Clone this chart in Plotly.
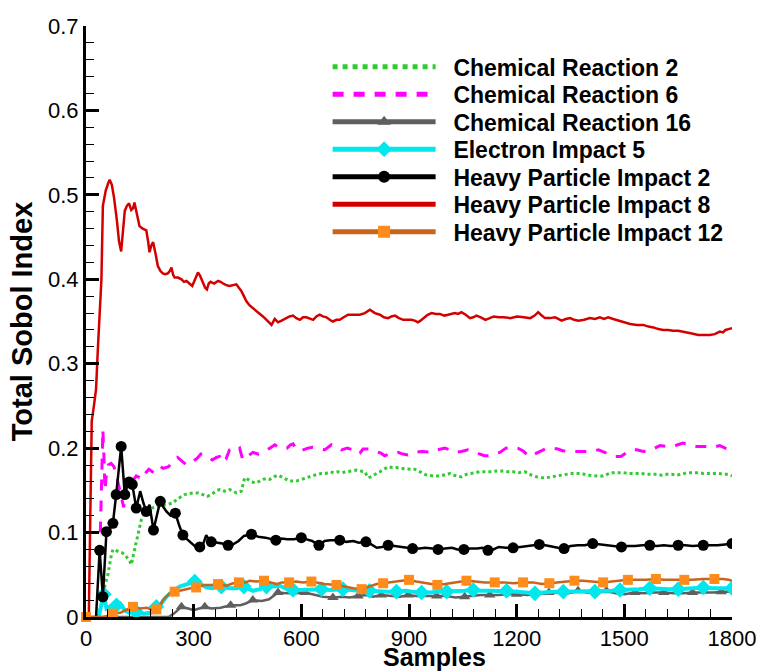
import plotly.graph_objects as go

# ---------------- data ----------------
hpi8_x = [0, 8, 12, 16, 22, 28, 33, 38, 43, 47, 55, 62, 66, 72, 78, 86, 92, 98, 103, 108, 114, 120, 126, 131, 135,
          142, 149, 158, 168, 173, 177, 182, 187, 194, 200, 207, 214, 221, 228, 234, 238, 243, 247, 256, 266, 273,
          280, 288, 296, 304, 312, 318, 326, 332, 337, 342, 347, 357, 368, 375, 382, 391, 400, 410, 419, 426, 433,
          440, 447, 456, 465, 474, 484, 493, 503, 510, 517, 526, 535, 545, 558, 567, 577, 586, 596, 605, 614, 624,
          633, 642, 651, 660, 670, 679, 688, 698, 707, 718, 730, 745, 763, 777, 791, 805, 819, 830, 842, 851, 861,
          872, 884, 895, 907, 916, 925, 932, 940, 952, 963, 975, 986, 998, 1009, 1019, 1028, 1037, 1046, 1058,
          1070, 1079, 1088, 1100, 1113, 1125, 1136, 1150, 1164, 1182, 1201, 1220, 1238, 1250, 1260, 1270, 1279,
          1293, 1307, 1316, 1325, 1337, 1349, 1360, 1372, 1388, 1404, 1418, 1432, 1443, 1455, 1469, 1483, 1500,
          1516, 1535, 1553, 1567, 1581, 1595, 1608, 1622, 1636, 1650, 1664, 1685, 1706, 1722, 1738, 1752, 1766,
          1775, 1782, 1790, 1800]
hpi8_y = [0.0, 0.005, 0.12, 0.232, 0.25, 0.27, 0.317, 0.36, 0.40, 0.487, 0.505, 0.514, 0.518, 0.512, 0.497, 0.47,
          0.445, 0.433, 0.455, 0.481, 0.487, 0.49, 0.482, 0.484, 0.491, 0.475, 0.463, 0.46, 0.458, 0.445, 0.432,
          0.44, 0.444, 0.43, 0.416, 0.41, 0.407, 0.406, 0.407, 0.41, 0.414, 0.405, 0.402, 0.402, 0.4, 0.397, 0.398,
          0.395, 0.392, 0.4, 0.408, 0.404, 0.396, 0.39, 0.388, 0.395, 0.397, 0.395, 0.398, 0.397, 0.395, 0.393,
          0.392, 0.393, 0.394, 0.39, 0.386, 0.38, 0.374, 0.369, 0.366, 0.363, 0.36, 0.356, 0.352, 0.349, 0.346,
          0.353, 0.349, 0.351, 0.354, 0.356, 0.357, 0.354, 0.352, 0.355, 0.355, 0.353, 0.352, 0.356, 0.358, 0.356,
          0.355, 0.352, 0.35, 0.352, 0.352, 0.355, 0.358, 0.358, 0.358, 0.36, 0.364, 0.36, 0.358, 0.355, 0.354,
          0.356, 0.357, 0.354, 0.352, 0.352, 0.352, 0.351, 0.349, 0.351, 0.354, 0.358, 0.36, 0.359, 0.359, 0.357,
          0.358, 0.359, 0.36, 0.359, 0.361, 0.358, 0.354, 0.355, 0.357, 0.355, 0.352, 0.354, 0.356, 0.355, 0.355,
          0.354, 0.356, 0.355, 0.354, 0.357, 0.361, 0.357, 0.354, 0.354, 0.355, 0.353, 0.351, 0.353, 0.354, 0.352,
          0.351, 0.352, 0.354, 0.353, 0.355, 0.353, 0.355, 0.353, 0.351, 0.349, 0.347, 0.346, 0.346, 0.344, 0.343,
          0.341, 0.34, 0.34, 0.339, 0.339, 0.338, 0.336, 0.334, 0.334, 0.334, 0.335, 0.338, 0.337, 0.34, 0.341,
          0.342]

cr6_x = [40, 44, 47, 50, 53, 57, 62, 70, 78, 86, 95, 100, 105, 110, 116, 125, 132, 140, 150, 158, 165, 175, 185,
         195, 205, 215, 230, 242, 255, 268, 280, 295, 310, 320, 328, 340, 352, 363, 372, 380, 390, 400, 410, 420,
         428, 437, 450, 465, 480, 498, 512, 526, 540, 560, 570, 577, 587, 600, 618, 632, 646, 665, 684, 698, 712,
         728, 743, 755, 763, 772, 790, 810, 822, 832, 850, 869, 883, 897, 915, 935, 950, 963, 980, 1000, 1014,
         1028, 1046, 1064, 1078, 1092, 1110, 1125, 1140, 1153, 1170, 1189, 1203, 1217, 1235, 1256, 1270, 1284,
         1300, 1315, 1328, 1342, 1360, 1381, 1395, 1409, 1428, 1446, 1460, 1474, 1490, 1507, 1521, 1535, 1553,
         1571, 1585, 1599, 1617, 1635, 1649, 1663, 1683, 1702, 1716, 1730, 1748, 1766, 1781, 1796, 1800]
cr6_y = [0.10, 0.16, 0.222, 0.19, 0.15, 0.17, 0.18, 0.182, 0.178, 0.165, 0.15, 0.14, 0.13, 0.145, 0.162, 0.158,
         0.163, 0.167, 0.165, 0.172, 0.17, 0.175, 0.172, 0.178, 0.179, 0.176, 0.178, 0.184, 0.189, 0.184, 0.18,
         0.183, 0.188, 0.193, 0.193, 0.19, 0.186, 0.189, 0.19, 0.183, 0.187, 0.198, 0.2, 0.198, 0.2, 0.186, 0.19,
         0.195, 0.193, 0.196, 0.2, 0.204, 0.2, 0.2, 0.204, 0.205, 0.198, 0.197, 0.2, 0.201, 0.2, 0.198, 0.204,
         0.202, 0.198, 0.2, 0.198, 0.193, 0.194, 0.199, 0.199, 0.196, 0.194, 0.191, 0.194, 0.195, 0.193, 0.192,
         0.195, 0.196, 0.195, 0.195, 0.198, 0.2, 0.198, 0.195, 0.196, 0.198, 0.196, 0.194, 0.191, 0.191, 0.193,
         0.195, 0.2, 0.201, 0.2, 0.197, 0.19, 0.194, 0.197, 0.2, 0.2, 0.199, 0.197, 0.196, 0.196, 0.196, 0.196,
         0.196, 0.198, 0.195, 0.193, 0.19, 0.19, 0.195, 0.198, 0.198, 0.196, 0.197, 0.2, 0.203, 0.202, 0.202,
         0.204, 0.206, 0.204, 0.202, 0.202, 0.202, 0.201, 0.203, 0.2, 0.198, 0.198]

cr2_x = [35, 40, 47, 54, 61, 66, 70, 75, 80, 87, 94, 101, 108, 115, 122, 126, 133, 140, 147, 154, 163, 172, 182,
         193, 205, 216, 228, 242, 252, 261, 275, 286, 298, 312, 326, 338, 349, 357, 365, 373, 386, 400, 410, 419,
         433, 442, 451, 461, 475, 484, 493, 503, 512, 524, 535, 549, 558, 568, 586, 600, 614, 625, 637, 656, 668,
         679, 690, 702, 714, 726, 740, 754, 765, 777, 782, 786, 793, 800, 810, 819, 830, 842, 853, 865, 879, 893,
         905, 916, 930, 940, 949, 968, 980, 995, 1005, 1014, 1024, 1033, 1046, 1060, 1070, 1085, 1097, 1115, 1130,
         1145, 1158, 1175, 1190, 1205, 1223, 1232, 1241, 1255, 1269, 1283, 1297, 1311, 1325, 1340, 1353, 1367,
         1381, 1397, 1413, 1427, 1441, 1452, 1464, 1480, 1497, 1513, 1530, 1546, 1562, 1576, 1590, 1604, 1618,
         1632, 1646, 1660, 1674, 1690, 1706, 1720, 1734, 1748, 1762, 1776, 1790, 1800]
cr2_y = [0.0, 0.01, 0.028, 0.04, 0.05, 0.065, 0.072, 0.08, 0.079, 0.078, 0.077, 0.076, 0.074, 0.07, 0.066, 0.062,
         0.075, 0.087, 0.1, 0.115, 0.123, 0.127, 0.129, 0.13, 0.131, 0.132, 0.133, 0.135, 0.139, 0.141, 0.145,
         0.146, 0.147, 0.147, 0.145, 0.143, 0.145, 0.148, 0.15, 0.151, 0.149, 0.151, 0.149, 0.147, 0.149, 0.165,
         0.163, 0.16, 0.159, 0.161, 0.163, 0.164, 0.163, 0.166, 0.168, 0.165, 0.163, 0.161, 0.161, 0.163, 0.165,
         0.166, 0.168, 0.17, 0.17, 0.172, 0.171, 0.172, 0.171, 0.172, 0.173, 0.174, 0.173, 0.172, 0.168, 0.165,
         0.166, 0.168, 0.17, 0.172, 0.175, 0.178, 0.177, 0.177, 0.176, 0.175, 0.175, 0.175, 0.172, 0.17, 0.168,
         0.167, 0.167, 0.168, 0.169, 0.17, 0.168, 0.167, 0.166, 0.169, 0.17, 0.171, 0.172, 0.172, 0.172, 0.173,
         0.173, 0.172, 0.172, 0.171, 0.172, 0.17, 0.168, 0.166, 0.165, 0.165, 0.166, 0.167, 0.168, 0.169, 0.17,
         0.17, 0.17, 0.168, 0.167, 0.167, 0.167, 0.169, 0.171, 0.171, 0.171, 0.17, 0.17, 0.17, 0.169, 0.169,
         0.169, 0.168, 0.169, 0.169, 0.168, 0.169, 0.171, 0.171, 0.171, 0.17, 0.17, 0.17, 0.17, 0.169, 0.169,
         0.167]

# Heavy Particle Impact 2: x, y, marker flag (1 = symbol drawn)
hpi2_x = [28, 38, 47, 57, 66, 75, 84, 98, 108, 114, 120, 129, 140, 151, 160, 168, 177, 188, 200, 207, 216, 224,
          236, 249, 260, 270, 282, 294, 306, 317, 326, 335, 342, 349, 365, 380, 396, 410, 425, 440, 461, 480, 500,
          515, 529, 545, 560, 580, 600, 615, 630, 649, 665, 680, 707, 725, 745, 760, 780, 795, 810, 825, 842, 860,
          880, 895, 910, 930, 945, 965, 981, 1000, 1020, 1035, 1053, 1070, 1090, 1105, 1120, 1135, 1150, 1170,
          1190, 1210, 1230, 1245, 1263, 1280, 1300, 1315, 1332, 1350, 1370, 1390, 1412, 1430, 1450, 1470, 1492,
          1510, 1530, 1550, 1571, 1590, 1610, 1630, 1650, 1670, 1690, 1720, 1740, 1760, 1780, 1800]
hpi2_y = [0.0, 0.079, 0.024, 0.101, 0.104, 0.111, 0.145, 0.202, 0.145, 0.155, 0.16, 0.157, 0.129, 0.149, 0.135,
          0.125, 0.133, 0.103, 0.125, 0.137, 0.13, 0.125, 0.12, 0.123, 0.108, 0.097, 0.092, 0.087, 0.083, 0.083,
          0.086, 0.097, 0.092, 0.089, 0.088, 0.087, 0.085, 0.086, 0.09, 0.096, 0.098, 0.095, 0.094, 0.092, 0.091,
          0.093, 0.092, 0.092, 0.094, 0.092, 0.09, 0.085, 0.09, 0.091, 0.091, 0.089, 0.09, 0.088, 0.089, 0.086,
          0.082, 0.083, 0.085, 0.084, 0.083, 0.082, 0.081, 0.081, 0.082, 0.081, 0.08, 0.081, 0.082, 0.08, 0.08,
          0.081, 0.081, 0.082, 0.079, 0.08, 0.083, 0.082, 0.082, 0.083, 0.084, 0.085, 0.086, 0.085, 0.083, 0.082,
          0.081, 0.084, 0.085, 0.085, 0.087, 0.086, 0.085, 0.084, 0.083, 0.084, 0.084, 0.085, 0.085, 0.084, 0.085,
          0.084, 0.085, 0.085, 0.084, 0.085, 0.085, 0.085, 0.086, 0.087]
hpi2_m = [0, 1, 1, 1, 0, 1, 1, 1, 1, 0, 1, 1, 1, 0, 0, 1, 0, 1, 0, 1, 0, 0, 0, 1, 0, 1, 0, 0, 0, 1, 0, 0, 0, 1,
          0, 0, 1, 0, 0, 0, 1, 0, 0, 0, 1, 0, 0, 0, 1, 0, 0, 1, 0, 0, 1, 0, 0, 0, 1, 0, 0, 0, 1, 0, 0, 0, 1, 0,
          0, 0, 1, 0, 0, 0, 1, 0, 0, 0, 1, 0, 0, 0, 1, 0, 0, 0, 1, 0, 0, 0, 1, 0, 0, 0, 1, 0, 0, 0, 1, 0, 0, 0,
          1, 0, 0, 0, 1, 0, 0, 1, 0, 0, 0, 1]

hpi12_x = [0, 30, 50, 75, 95, 110, 131, 150, 170, 185, 196, 205, 214, 233, 247, 261, 280, 307, 331, 350, 368, 391,
           410, 426, 445, 456, 475, 496, 515, 531, 545, 566, 585, 605, 628, 645, 665, 698, 720, 745, 768, 790, 810,
           828, 850, 875, 900, 920, 945, 979, 1000, 1030, 1060, 1085, 1110, 1139, 1165, 1190, 1218, 1245, 1270,
           1291, 1315, 1340, 1361, 1385, 1415, 1441, 1465, 1490, 1510, 1535, 1560, 1588, 1610, 1640, 1667, 1690,
           1720, 1751, 1775, 1790, 1800]
hpi12_y = [0.0, 0.0, 0.0, 0.004, 0.005, 0.008, 0.012, 0.01, 0.011, 0.008, 0.009, 0.012, 0.02, 0.028, 0.03, 0.031,
           0.033, 0.035, 0.038, 0.038, 0.039, 0.037, 0.04, 0.041, 0.041, 0.043, 0.042, 0.043, 0.041, 0.039, 0.041,
           0.041, 0.042, 0.041, 0.042, 0.041, 0.039, 0.038, 0.036, 0.034, 0.033, 0.036, 0.039, 0.04, 0.041, 0.043,
           0.044, 0.042, 0.04, 0.038, 0.039, 0.041, 0.043, 0.042, 0.041, 0.041, 0.041, 0.04, 0.041, 0.041, 0.039,
           0.04, 0.041, 0.042, 0.043, 0.043, 0.042, 0.041, 0.042, 0.043, 0.044, 0.044, 0.044, 0.045, 0.044, 0.044,
           0.044, 0.044, 0.045, 0.045, 0.045, 0.044, 0.043]
hpi12_m = [1, 0, 0, 1, 0, 0, 1, 0, 0, 0, 1, 0, 0, 0, 1, 0, 0, 1, 0, 0, 1, 0, 0, 1, 0, 0, 0, 1, 0, 0, 0, 1, 0, 0,
           1, 0, 0, 1, 0, 0, 1, 0, 0, 1, 0, 0, 1, 0, 0, 1, 0, 0, 1, 0, 0, 1, 0, 0, 1, 0, 0, 1, 0, 0, 1, 0, 0, 1,
           0, 0, 1, 0, 0, 1, 0, 0, 1, 0, 0, 1, 0, 0, 0]

ei5_x = [35, 45, 50, 57, 65, 75, 85, 95, 108, 120, 140, 160, 180, 196, 210, 224, 240, 261, 275, 303, 320, 335, 350,
         377, 400, 419, 440, 465, 485, 503, 520, 540, 560, 577, 600, 630, 656, 680, 716, 740, 760, 790, 815, 840,
         865, 890, 910, 935, 960, 980, 1005, 1030, 1055, 1079, 1100, 1130, 1172, 1200, 1225, 1251, 1275, 1300,
         1330, 1360, 1390, 1418, 1445, 1465, 1488, 1510, 1540, 1571, 1600, 1625, 1650, 1675, 1700, 1720, 1745,
         1770, 1800]
ei5_y = [0.0, 0.022, 0.027, 0.01, 0.012, 0.008, 0.014, 0.016, 0.008, 0.005, 0.006, 0.004, 0.005, 0.012, 0.016,
         0.024, 0.03, 0.036, 0.038, 0.042, 0.039, 0.035, 0.034, 0.036, 0.034, 0.034, 0.036, 0.031, 0.033, 0.036,
         0.036, 0.037, 0.033, 0.032, 0.032, 0.033, 0.033, 0.032, 0.033, 0.032, 0.031, 0.031, 0.03, 0.03, 0.03,
         0.031, 0.03, 0.029, 0.029, 0.03, 0.03, 0.03, 0.031, 0.032, 0.031, 0.031, 0.031, 0.03, 0.029, 0.028,
         0.029, 0.03, 0.03, 0.03, 0.03, 0.03, 0.031, 0.031, 0.032, 0.032, 0.033, 0.034, 0.033, 0.033, 0.033,
         0.034, 0.034, 0.035, 0.034, 0.034, 0.034]
ei5_m = [0, 0, 1, 0, 0, 0, 1, 0, 0, 0, 1, 0, 0, 1, 0, 0, 0, 0, 0, 1, 0, 0, 0, 1, 0, 0, 1, 0, 0, 1, 0, 0, 0, 1,
         0, 0, 1, 0, 1, 0, 0, 1, 0, 0, 1, 0, 0, 1, 0, 0, 1, 0, 0, 1, 0, 0, 1, 0, 0, 1, 0, 0, 1, 0, 0, 1, 0, 0,
         1, 0, 0, 1, 0, 0, 1, 0, 0, 1, 0, 0, 1]

cr16_x = [0, 230, 245, 266, 285, 300, 331, 350, 375, 403, 430, 445, 465, 490, 510, 535, 560, 585, 610, 630, 660,
          688, 715, 735, 758, 780, 800, 823, 850, 875, 898, 920, 950, 977, 1000, 1030, 1055, 1080, 1100, 1125,
          1150, 1175, 1200, 1230, 1260, 1290, 1320, 1345, 1371, 1395, 1420, 1450, 1475, 1500, 1530, 1555, 1585,
          1610, 1640, 1665, 1690, 1720, 1750, 1770, 1800]
cr16_y = [0.0, 0.0, 0.004, 0.012, 0.01, 0.008, 0.012, 0.01, 0.011, 0.014, 0.014, 0.016, 0.02, 0.019, 0.021, 0.029,
          0.028, 0.028, 0.029, 0.027, 0.024, 0.023, 0.024, 0.023, 0.025, 0.026, 0.024, 0.026, 0.025, 0.024, 0.026,
          0.025, 0.025, 0.025, 0.025, 0.023, 0.024, 0.025, 0.026, 0.026, 0.026, 0.027, 0.027, 0.026, 0.027, 0.029,
          0.028, 0.028, 0.031, 0.029, 0.028, 0.031, 0.028, 0.027, 0.029, 0.028, 0.029, 0.029, 0.028, 0.028, 0.029,
          0.029, 0.029, 0.03, 0.03]
cr16_m = [0, 0, 0, 1, 0, 0, 1, 0, 0, 1, 0, 0, 1, 0, 0, 1, 0, 0, 1, 0, 0, 1, 0, 0, 1, 0, 0, 1, 0, 0, 1, 0, 0, 1,
          0, 0, 1, 0, 0, 1, 0, 0, 1, 0, 0, 1, 0, 0, 1, 0, 0, 1, 0, 0, 1, 0, 0, 1, 0, 0, 1, 0, 0, 1, 0]

x_ticks = [0, 300, 600, 900, 1200, 1500, 1800]
y_ticks = [0, 0.1, 0.2, 0.3, 0.4, 0.5, 0.6, 0.7]

FONT = "Liberation Sans, Arial, sans-serif"
NB = "\u00a0\u00a0"


def sizes(flags, s):
    return [s if f else 0 for f in flags]


fig = go.Figure()

fig.add_trace(go.Scatter(x=cr2_x, y=cr2_y, name=NB + "Chemical Reaction 2", mode="lines", legend="legend",
                         line=dict(color="#2ecc2e", width=3, dash="dot")))
fig.add_trace(go.Scatter(x=cr6_x, y=cr6_y, name=NB + "Chemical Reaction 6", mode="lines", legend="legend2",
                         line=dict(color="#ff00ff", width=3, dash="11px,10px")))
fig.add_trace(go.Scatter(x=cr16_x, y=cr16_y, name=NB + "Chemical Reaction 16", mode="lines+markers",
                         legend="legend3", line=dict(color="#5f5f5f", width=2.5),
                         marker=dict(symbol="triangle-up", size=sizes(cr16_m, 10), color="#5f5f5f",
                                     opacity=1, line=dict(width=0))))
fig.add_trace(go.Scatter(x=ei5_x, y=ei5_y, name=NB + "Electron Impact 5", mode="lines+markers",
                         legend="legend4", line=dict(color="#00e8ec", width=4),
                         marker=dict(symbol="diamond", size=sizes(ei5_m, 12), color="#00e8ec",
                                     opacity=1, line=dict(width=0))))
fig.add_trace(go.Scatter(x=hpi2_x, y=hpi2_y, name=NB + "Heavy Particle Impact 2", mode="lines+markers",
                         legend="legend5", line=dict(color="#000000", width=2.5),
                         marker=dict(symbol="circle", size=sizes(hpi2_m, 11), color="#000000",
                                     opacity=1, line=dict(width=0))))
fig.add_trace(go.Scatter(x=hpi8_x, y=hpi8_y, name=NB + "Heavy Particle Impact 8", mode="lines",
                         legend="legend6", line=dict(color="#d40000", width=2.5)))
fig.add_trace(go.Scatter(x=hpi12_x, y=hpi12_y, name=NB + "Heavy Particle Impact 12", mode="lines+markers",
                         legend="legend7", line=dict(color="#c8641c", width=2.5), cliponaxis=False,
                         marker=dict(symbol="square", size=sizes(hpi12_m, 10), color="#ff8c1a",
                                     opacity=1, line=dict(width=0))))

axis_common = dict(
    showline=True, linecolor="black", linewidth=3, mirror=False,
    ticks="inside", ticklen=13, tickwidth=3, tickcolor="black",
    showgrid=False, zeroline=False,
    tickfont=dict(family=FONT, size=22, color="black"),
)

fig.update_xaxes(range=[0, 1800], tickvals=x_ticks, ticktext=[str(v) for v in x_ticks],
                 minor=dict(dtick=60, ticklen=8, tickwidth=1, ticks="inside", tickcolor="black", showgrid=False),
                 **axis_common)
fig.update_yaxes(range=[0, 0.7], tickvals=y_ticks, ticktext=[("0" if v == 0 else f"{v:.1f}") for v in y_ticks],
                 minor=dict(dtick=0.02, ticklen=8, tickwidth=1, ticks="inside", tickcolor="black", showgrid=False),
                 title=dict(text="Total Sobol Index", font=dict(family=FONT, size=29, color="black", weight="bold"),
                            standoff=7),
                 **axis_common)

fig.add_annotation(text="Samples", xref="paper", yref="paper", x=0.54, y=-0.0675,
                   xanchor="center", yanchor="middle", showarrow=False,
                   font=dict(family=FONT, size=25, color="black", weight="bold"))

legend_style = dict(x=0.374, xanchor="left", yanchor="middle", bgcolor="rgba(0,0,0,0)",
                    font=dict(family=FONT, size=23, color="black", weight="bold"),
                    itemwidth=103, itemsizing="constant", tracegroupgap=0)
row_centers_px = [66.7, 94.2, 121.7, 149.2, 176.7, 204.2, 231.7]
legend_layout = {}
for i, yc in enumerate(row_centers_px):
    key = "legend" if i == 0 else f"legend{i + 1}"
    legend_layout[key] = dict(y=(617 - yc) / 591, **legend_style)

fig.update_layout(
    width=758, height=671,
    margin=dict(l=86, r=26, t=26, b=54, autoexpand=False),
    paper_bgcolor="white", plot_bgcolor="white",
    showlegend=True,
    **legend_layout,
)

fig.write_html("out.html")
